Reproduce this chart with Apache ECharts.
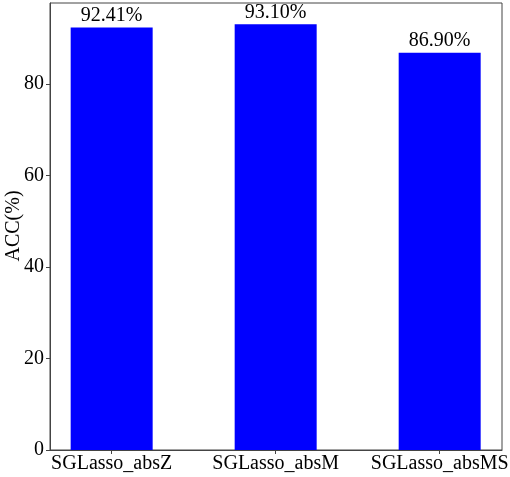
<!DOCTYPE html>
<html>
<head>
<meta charset="utf-8">
<script src="https://cdn.jsdelivr.net/npm/echarts@6/dist/echarts.min.js"></script>
<style>html,body{margin:0;padding:0;background:#fff}#c{width:510px;height:477px}</style>
</head>
<body>
<div id="c"></div>
<script>
const categories = ['SGLasso_absZ', 'SGLasso_absM', 'SGLasso_absMS'];
const accValues = [92.41, 93.10, 86.90];
const yTicks = [0, 20, 40, 60, 80];
const yTitle = 'ACC(%)';

const font = 'Liberation Serif, Times New Roman, serif';
const chart = echarts.init(document.getElementById('c'));
chart.setOption({
  animation: false,
  backgroundColor: '#fff',
  grid: { left: 50, right: 8, top: 3, bottom: 27, show: true, borderColor: '#444', borderWidth: 1, outerBoundsMode: 'none', containLabel: false },
  graphic: [{
    type: 'text', x: 14, y: 226, rotation: Math.PI / 2,
    style: { text: yTitle, fill: '#000', font: '20px ' + font, align: 'center', verticalAlign: 'middle' }
  }],
  xAxis: {
    type: 'value', min: -0.376, max: 2.38,
    splitLine: { show: false },
    axisLine: { onZero: false, lineStyle: { color: '#444' } },
    axisTick: { show: true, customValues: [0, 1, 2], length: 4, lineStyle: { color: '#444' } },
    axisLabel: { customValues: [0, 1, 2], formatter: v => categories[Math.round(v)] || '', color: '#000', fontFamily: font, fontSize: 20, margin: 4 }
  },
  yAxis: {
    type: 'value', min: 0, max: 97.755,
    splitLine: { show: false },
    axisLine: { show: true, onZero: false, lineStyle: { color: '#444' } },
    axisTick: { show: true, customValues: yTicks, length: 4, lineStyle: { color: '#444' } },
    axisLabel: { customValues: yTicks, color: '#000', fontFamily: font, fontSize: 20, margin: 6 }
  },
  series: [{
    type: 'bar',
    barWidth: 82,
    data: categories.map((c, i) => [i, accValues[i]]),
    itemStyle: { color: '#0000ff' },
    label: { show: true, position: 'top', distance: 2, formatter: p => p.value[1].toFixed(2) + '%', color: '#000', fontFamily: font, fontSize: 20 }
  }]
});
</script>
</body>
</html>
